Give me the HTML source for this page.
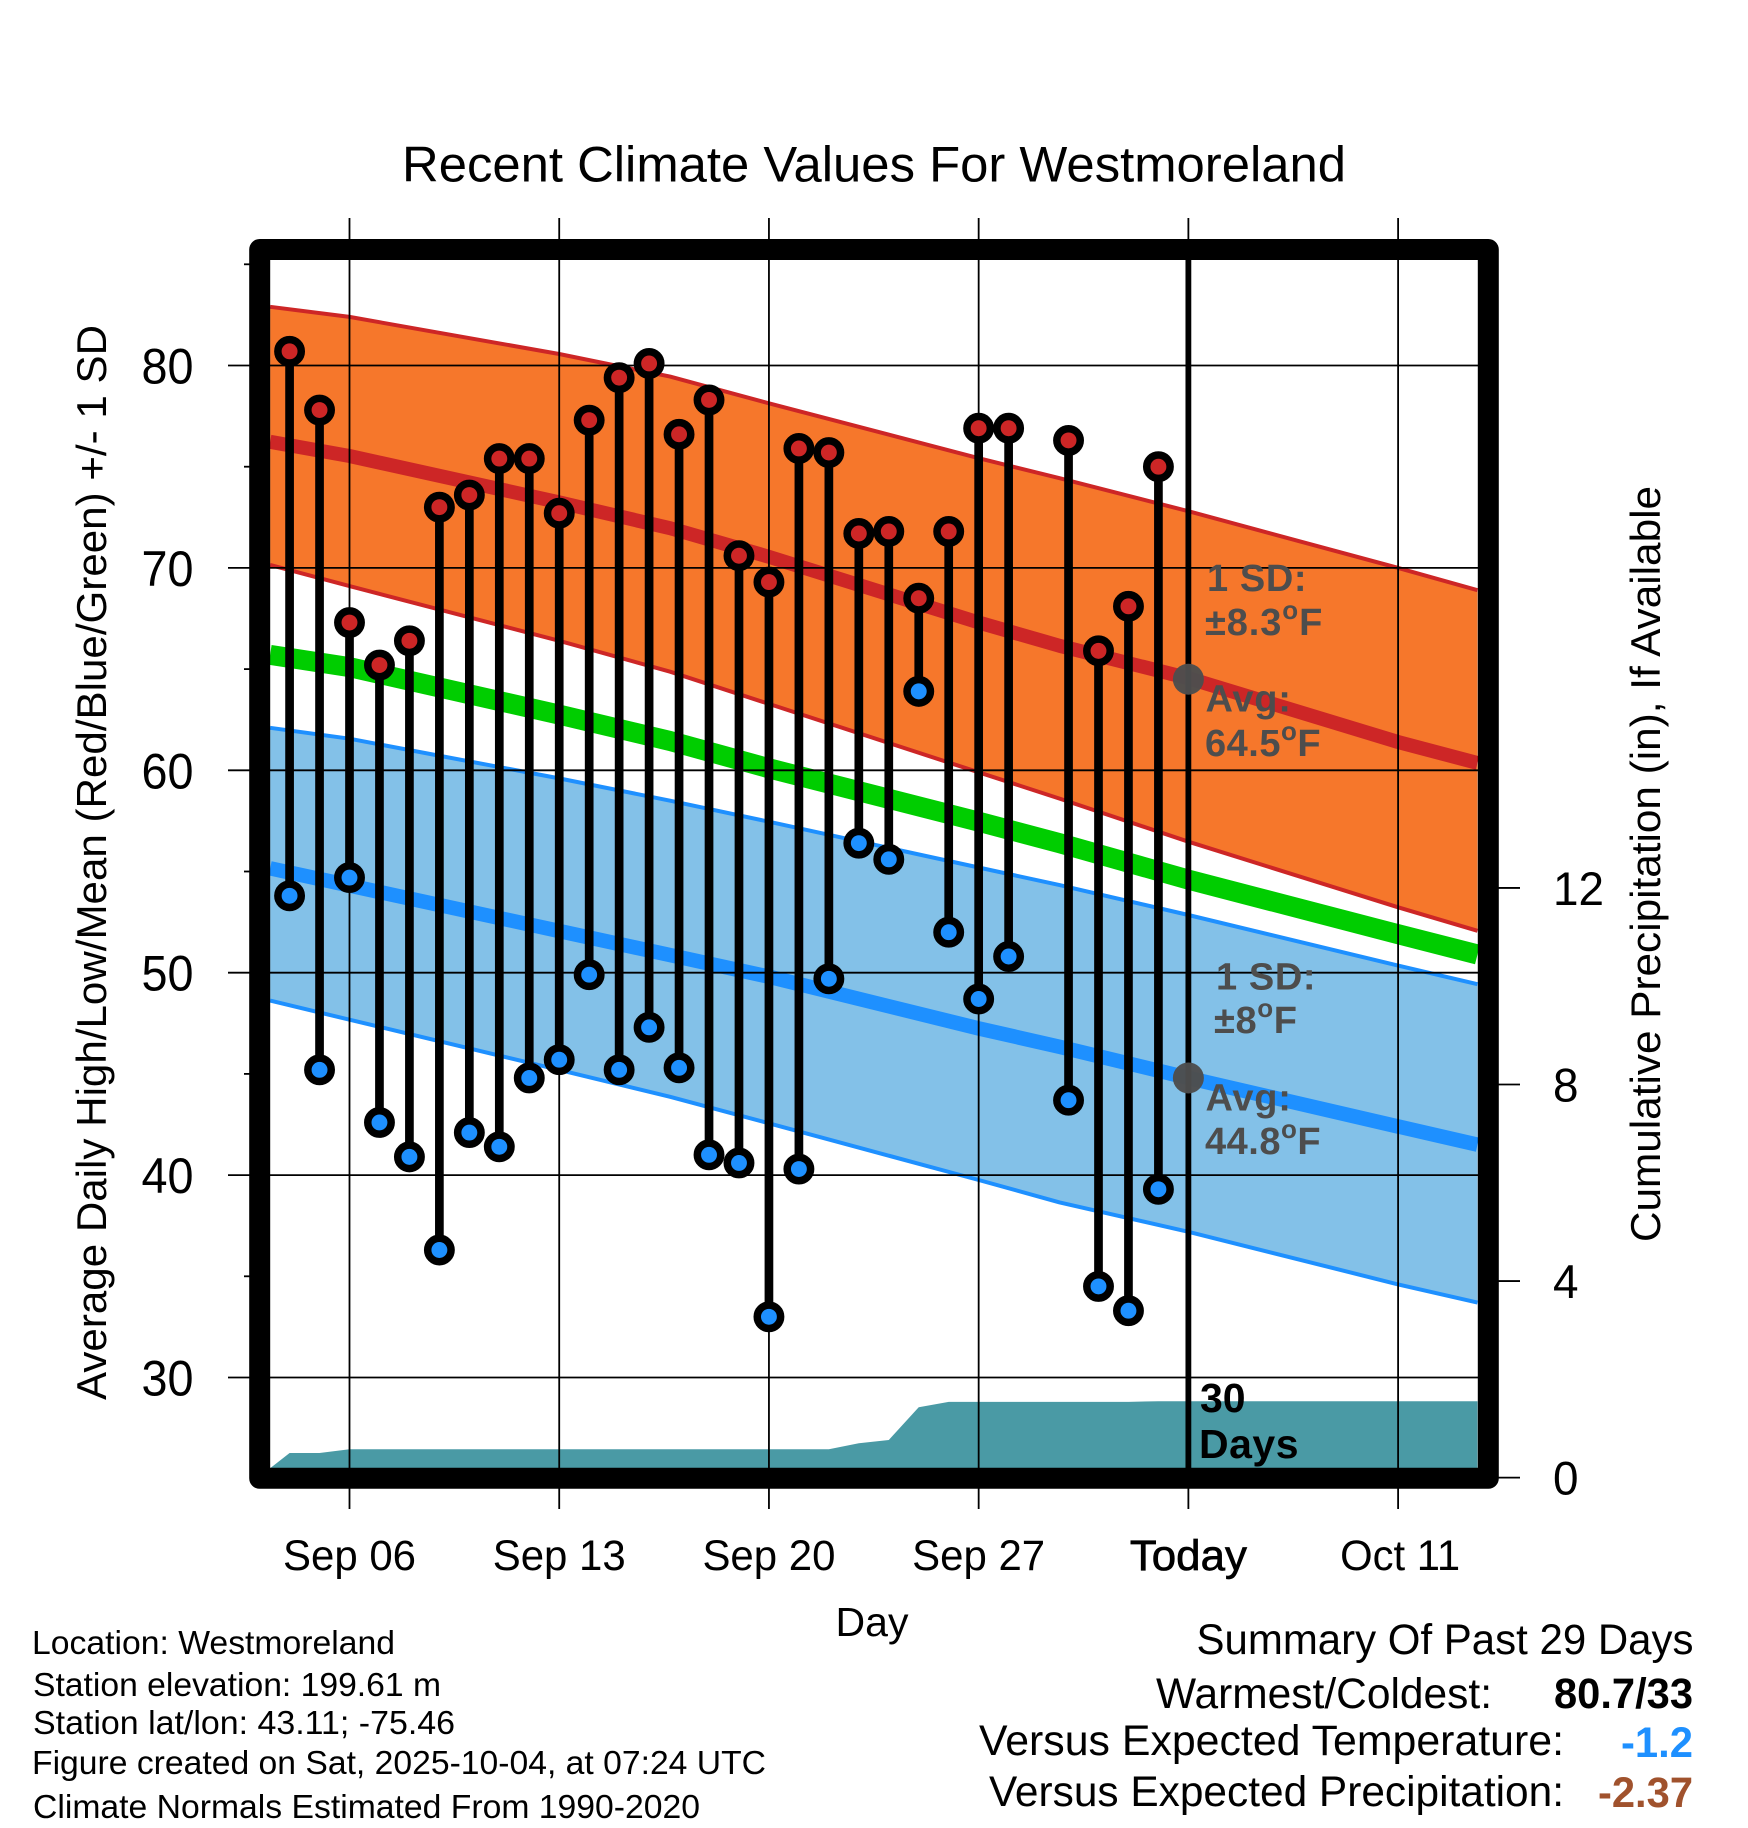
<!DOCTYPE html>
<html lang="en">
<head>
<meta charset="utf-8">
<title>Recent Climate Values For Westmoreland</title>
<style>
html,body{margin:0;padding:0;background:#fff}
svg{display:block}
text{font-family:"Liberation Sans",sans-serif;fill:#000}
.b{font-weight:bold}
.g{font-weight:bold;fill:#4d4d4d;font-size:38px}
</style>
</head>
<body>
<svg id="chart" xmlns="http://www.w3.org/2000/svg" width="1748" height="1828" viewBox="0 0 1748 1828">
<rect x="0" y="0" width="1748" height="1828" fill="#fff"/>
<g id="marks"></g>
<text x="402" y="181.5" font-size="50" textLength="944" lengthAdjust="spacingAndGlyphs">Recent Climate Values For Westmoreland</text>
<text transform="translate(106,1400) rotate(-90)" font-size="42" textLength="1075" lengthAdjust="spacingAndGlyphs">Average Daily High/Low/Mean (Red/Blue/Green) +/- 1 SD</text>
<text transform="translate(1660,1242) rotate(-90)" font-size="42" textLength="756" lengthAdjust="spacingAndGlyphs">Cumulative Precipitation (in), If Available</text>
<text x="872" y="1636" font-size="41" text-anchor="middle">Day</text>

<text class="g" x="1207" y="591" letter-spacing="0.6">1 SD:</text>
<text class="g" x="1205" y="635" letter-spacing="0.9">±8.3<tspan dy="-16" font-size="26">o</tspan><tspan dy="16">F</tspan></text>
<text class="g" x="1205.5" y="711.5" letter-spacing="0.8">Avg:</text>
<text class="g" x="1205" y="756" letter-spacing="0.5">64.5<tspan dy="-16" font-size="26">o</tspan><tspan dy="16">F</tspan></text>
<text class="g" x="1216" y="989.5" letter-spacing="0.6">1 SD:</text>
<text class="g" x="1214" y="1033" letter-spacing="0.6">±8<tspan dy="-16" font-size="26">o</tspan><tspan dy="16">F</tspan></text>
<text class="g" x="1205.5" y="1110.5" letter-spacing="0.8">Avg:</text>
<text class="g" x="1205" y="1154" letter-spacing="0.5">44.8<tspan dy="-16" font-size="26">o</tspan><tspan dy="16">F</tspan></text>
<text class="b" x="1200" y="1412" font-size="41">30</text>
<text class="b" x="1199" y="1458" font-size="41" letter-spacing="0.5">Days</text>

<g font-size="33.5">
<text x="32" y="1654" textLength="363" lengthAdjust="spacingAndGlyphs">Location: Westmoreland</text>
<text x="33" y="1696" textLength="408" lengthAdjust="spacingAndGlyphs">Station elevation: 199.61 m</text>
<text x="33" y="1734" textLength="422" lengthAdjust="spacingAndGlyphs">Station lat/lon: 43.11; -75.46</text>
<text x="32" y="1774" textLength="734" lengthAdjust="spacingAndGlyphs">Figure created on Sat, 2025-10-04, at 07:24 UTC</text>
<text x="33" y="1818" textLength="667" lengthAdjust="spacingAndGlyphs">Climate Normals Estimated From 1990-2020</text>
</g>

<g font-size="42.5">
<text x="1196.5" y="1654" textLength="497" lengthAdjust="spacingAndGlyphs">Summary Of Past 29 Days</text>
<text x="1156" y="1708" textLength="336" lengthAdjust="spacingAndGlyphs">Warmest/Coldest:</text>
<text class="b" x="1554" y="1708" textLength="139" lengthAdjust="spacingAndGlyphs">80.7/33</text>
<text x="979" y="1755" textLength="585" lengthAdjust="spacingAndGlyphs">Versus Expected Temperature:</text>
<text class="b" x="1621" y="1757" textLength="72" lengthAdjust="spacingAndGlyphs" style="fill:#1e90ff">-1.2</text>
<text x="989" y="1806" textLength="575" lengthAdjust="spacingAndGlyphs">Versus Expected Precipitation:</text>
<text class="b" x="1598" y="1807" textLength="95" lengthAdjust="spacingAndGlyphs" style="fill:#a0522d">-2.37</text>
</g>
</svg>
<script>
// Day numbers count from Sep 0 (Oct 1 = day 31).
const obsDays  = [4,5,6,7,8,9,10,11,12,13,14,15,16,17,18,19,20,21,22,23,24,25,26,27,28,29,30,31,32,33];
const obsHighs = [80.7,77.8,67.3,65.2,66.4,73.0,73.6,75.4,75.4,72.7,77.3,79.4,80.1,76.6,78.3,70.6,69.3,75.9,75.7,71.7,71.8,68.5,71.8,76.9,76.9,null,76.3,65.9,68.1,75.0];
const obsLows  = [53.8,45.2,54.7,42.6,40.9,36.3,42.1,41.4,44.8,45.7,49.9,45.2,47.3,45.3,41.0,40.6,33.0,40.3,49.7,56.4,55.6,63.9,52.0,48.7,50.8,null,43.7,34.5,33.3,39.3];

const normalDays  = [3.35,6,13,16.7,20,27,29.7,34,41,43.65];
const highUpper   = [82.9,82.4,80.57,79.45,78.13,75.42,74.43,72.8,70.0,68.9];
const highMean    = [76.23,75.53,73.24,71.96,70.55,67.3,66.15,64.55,61.4,60.36];
const highLower   = [70.15,69.1,66.4,64.87,63.28,59.9,58.6,56.47,53.23,52.07];
const meanNormal  = [65.7,65.1,62.75,61.45,60.1,57.46,56.4,54.6,51.9,50.9];
const lowUpper    = [62.1,61.56,59.6,58.5,57.46,55.2,54.33,52.85,50.35,49.43];
const lowMean     = [55.16,54.31,52.06,50.87,49.8,47.25,46.34,44.8,42.4,41.5];
const lowLower    = [48.62,47.68,45.2,43.87,42.56,39.76,38.65,37.2,34.6,33.7];

const precipDays  = [3.35,4,5,6,22,23,24,25,26,32,33,43.65];
const precipTotal = [0.19,0.50,0.50,0.576,0.576,0.70,0.765,1.43,1.54,1.54,1.555,1.555];

const xTickDays   = [6,13,20,27,34,41];
const xTickLabels = ['Sep 06','Sep 13','Sep 20','Sep 27','Today','Oct 11'];
const yTicks      = [30,40,50,60,70,80];
const yMinorTicks = [35,45,55,65,75,85];
const rightTicks  = [0,4,8,12];
const todayDay    = 34;
const todayHigh   = 64.5;
const todayLow    = 44.8;

function xAxis(d){ return 349.5 + (d - 6) * 29.96; }
function yAxis(v){ return 365.5 + (80 - v) * 20.24; }
function yPrecip(p){ return 1477.6 - p * 49.14; }

const NS = 'http://www.w3.org/2000/svg';
const root = document.getElementById('marks');
function mk(tag, attrs){
  const el = document.createElementNS(NS, tag);
  for (const k in attrs) el.setAttribute(k, attrs[k]);
  root.appendChild(el);
  return el;
}
function pts(ds, vs, fy){ return ds.map((d,i)=>xAxis(d).toFixed(1)+','+fy(vs[i]).toFixed(1)); }
function band(up, lo, fill, name){
  const el = mk('polygon',{points:pts(normalDays,up,yAxis).concat(pts(normalDays,lo,yAxis).reverse()).join(' '),fill:fill});
  
  
}
function line(vs, color, w, name){
  const el = mk('polyline',{points:pts(normalDays,vs,yAxis).join(' '),fill:'none',stroke:color,'stroke-width':w,'stroke-linejoin':'round'});
  
  
}

band(highUpper, highLower, '#f6772b', 'high-sd-band');
band(lowUpper, lowLower, '#83c1e8', 'low-sd-band');
line(highUpper, '#cd2626', 4, 'high-upper-edge');
line(highLower, '#cd2626', 4, 'high-lower-edge');
line(lowUpper, '#1e90ff', 4, 'low-upper-edge');
line(lowLower, '#1e90ff', 4, 'low-lower-edge');
line(highMean, '#cd2626', 14, 'normal-high-line');
line(meanNormal, '#00cd00', 20, 'normal-mean-line');
line(lowMean, '#1e90ff', 14.5, 'normal-low-line');

const areaPts = pts(precipDays, precipTotal, yPrecip);
areaPts.push(xAxis(precipDays[precipDays.length-1]).toFixed(1)+','+yPrecip(0));
areaPts.push(xAxis(precipDays[0]).toFixed(1)+','+yPrecip(0));
const area = mk('polygon',{points:areaPts.join(' '),fill:'#4a9aa5'});



xTickDays.forEach((d,i)=>{
  const t = mk('line',{x1:xAxis(d),x2:xAxis(d),y1:218,y2:1509,stroke:'#000','stroke-width':1.8});
  
  
  const txt = xTickLabels[i];
  const w = txt === 'Today' ? 117 : (txt === 'Oct 11' ? 120 : 133);
  const cx = txt === 'Oct 11' ? xAxis(d) + 2 : xAxis(d);
  const l = mk('text',{x:cx - w / 2,y:1570,'font-size':43,textLength:w,lengthAdjust:'spacingAndGlyphs'});
  l.textContent = txt;
  if (d === todayDay) { l.setAttribute('stroke','#000'); l.setAttribute('stroke-width','0.7'); }
  
  
});
yTicks.forEach(v=>{
  const t = mk('line',{x1:228,x2:1478,y1:yAxis(v),y2:yAxis(v),stroke:'#000','stroke-width':1.8});
  
  
  const l = mk('text',{x:141.5,y:yAxis(v)+18,'font-size':50,textLength:52,lengthAdjust:'spacingAndGlyphs'});
  l.textContent = v;
  
  
});
yMinorTicks.forEach(v=>{
  const t = mk('line',{x1:244,x2:250,y1:yAxis(v),y2:yAxis(v),stroke:'#000','stroke-width':1.8});
  
  
});
rightTicks.forEach(p=>{
  const t = mk('line',{x1:1498,x2:1520,y1:yPrecip(p),y2:yPrecip(p),stroke:'#000','stroke-width':1.8});
  
  
  const l = mk('text',{x:1553,y:yPrecip(p)+17,'font-size':47,textLength:String(p).length * 25.5,lengthAdjust:'spacingAndGlyphs'});
  l.textContent = p;
  
  
});

const today = mk('line',{x1:xAxis(todayDay),x2:xAxis(todayDay),y1:255,y2:1470,stroke:'#000','stroke-width':5.8});



obsDays.forEach((d,i)=>{
  if (obsHighs[i] === null || obsLows[i] === null) return;
  const s = mk('line',{x1:xAxis(d),x2:xAxis(d),y1:yAxis(obsHighs[i]),y2:yAxis(obsLows[i]),stroke:'#000','stroke-width':8.7});
  
  
});
obsDays.forEach((d,i)=>{
  if (obsHighs[i] === null || obsLows[i] === null) return;
  const hi = mk('circle',{cx:xAxis(d),cy:yAxis(obsHighs[i]),r:11.7,fill:'#cd2626',stroke:'#000','stroke-width':7.5});
  
  
  const lo = mk('circle',{cx:xAxis(d),cy:yAxis(obsLows[i]),r:11.7,fill:'#1e90ff',stroke:'#000','stroke-width':7.5});
  
  
});

const dotHigh = mk('circle',{cx:xAxis(todayDay),cy:yAxis(todayHigh),r:15.5,fill:'#4d4d4d','fill-opacity':0.97});


const dotLow = mk('circle',{cx:xAxis(todayDay),cy:yAxis(todayLow),r:15.5,fill:'#4d4d4d','fill-opacity':0.97});



const frame = mk('rect',{x:259.7,y:249.5,width:1228.6,height:1228.8,fill:'none',stroke:'#000','stroke-width':21,'stroke-linejoin':'round'});


</script>
</body>
</html>
